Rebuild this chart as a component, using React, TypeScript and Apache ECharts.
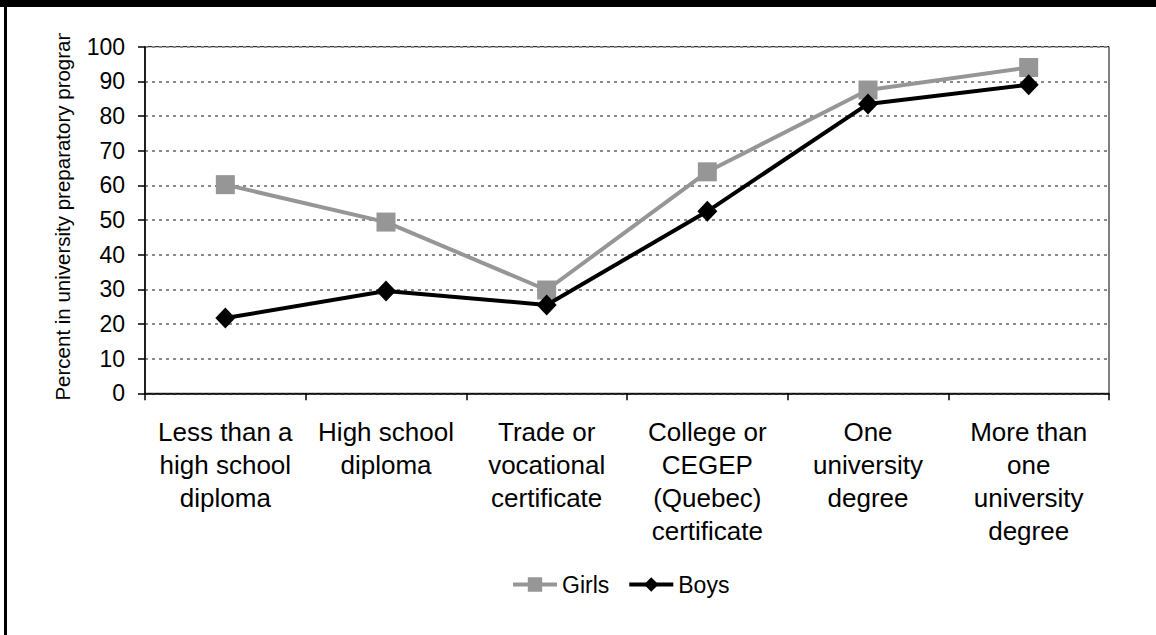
import React, { useEffect, useRef } from "react";
import * as echarts from "echarts";

const categories = [
  "Less than a\nhigh school\ndiploma",
  "High school\ndiploma",
  "Trade or\nvocational\ncertificate",
  "College or\nCEGEP\n(Quebec)\ncertificate",
  "One\nuniversity\ndegree",
  "More than\none\nuniversity\ndegree",
];
const girls = [60.2, 49.4, 29.8, 63.9, 87.5, 94.0];
const boys = [21.7, 29.5, 25.5, 52.5, 83.5, 89.0];
const yTicks = { min: 0, max: 100, interval: 10 };
const yTitle = "Percent in university preparatory program";

const FONT = "'Liberation Sans', Arial, sans-serif";

export default function App() {
  const ref = useRef<HTMLDivElement>(null);
  useEffect(() => {
    if (!ref.current) return;
    const chart = echarts.init(ref.current, undefined, { renderer: "svg" });
    chart.setOption({
      animation: false,
      backgroundColor: "#ffffff",
      textStyle: { fontFamily: FONT },
      grid: {
        left: 145,
        right: 47,
        top: 46.7,
        bottom: 241.7,
        show: true,
        borderColor: "#000",
        borderWidth: 1,
        backgroundColor: "transparent",
      },
      legend: {
        top: 568,
        left: 506,
        itemWidth: 44,
        itemHeight: 18,
        itemGap: 18,
        textStyle: { fontFamily: FONT, fontSize: 23, color: "#000", padding: [0, 0, 0, 0] },
        data: [
          { name: "Girls", lineStyle: { width: 4, color: "#969696" } },
          { name: "Boys", lineStyle: { width: 4, color: "#000" } },
        ],
      },
      xAxis: {
        type: "category",
        data: categories,
        boundaryGap: true,
        axisLine: { lineStyle: { color: "#000", width: 1.5 } },
        axisTick: { show: true, length: 7, lineStyle: { color: "#000", width: 1.5 } },
        axisLabel: {
          interval: 0,
          margin: 22,
          fontFamily: FONT,
          fontSize: 26,
          lineHeight: 33,
          color: "#000",
          align: "center",
        },
        splitLine: { show: false },
      },
      yAxis: {
        type: "value",
        min: yTicks.min,
        max: yTicks.max,
        interval: yTicks.interval,
        axisLine: { show: true, lineStyle: { color: "#000", width: 1.5 } },
        axisTick: { show: true, length: 7, lineStyle: { color: "#000", width: 1.5 } },
        axisLabel: { margin: 20, fontFamily: FONT, fontSize: 23, color: "#000" },
        splitLine: { show: true, lineStyle: { color: "#8a8a8a", width: 2, type: [3, 4] } },
      },
      series: [
        {
          name: "Girls",
          type: "line",
          data: girls,
          symbol: "rect",
          symbolSize: 19,
          itemStyle: { color: "#969696" },
          lineStyle: { color: "#969696", width: 4 },
          z: 2,
        },
        {
          name: "Boys",
          type: "line",
          data: boys,
          symbol: "diamond",
          symbolSize: [20, 21],
          itemStyle: { color: "#000" },
          lineStyle: { color: "#000", width: 4 },
          z: 3,
        },
      ],
      graphic: [
        {
          type: "text",
          x: 62,
          y: 212,
          rotation: Math.PI / 2,
          style: {
            text: yTitle,
            fontFamily: FONT,
            fontSize: 20.5,
            fill: "#000",
            align: "center",
            verticalAlign: "middle",
          },
          z: 10,
        },
        { type: "rect", shape: { x: 40, y: 0, width: 45, height: 33 }, style: { fill: "#fff" }, z: 11 },
        { type: "rect", shape: { x: 0, y: 0, width: 1156, height: 7 }, style: { fill: "#000" }, z: 12 },
        { type: "rect", shape: { x: 4, y: 0, width: 3, height: 635 }, style: { fill: "#000" }, z: 12 },
      ],
    });
    return () => chart.dispose();
  }, []);
  return (
    <div
      ref={ref}
      style={{ position: "fixed", left: 0, top: 0, width: 1156, height: 635, background: "#fff" }}
    />
  );
}
